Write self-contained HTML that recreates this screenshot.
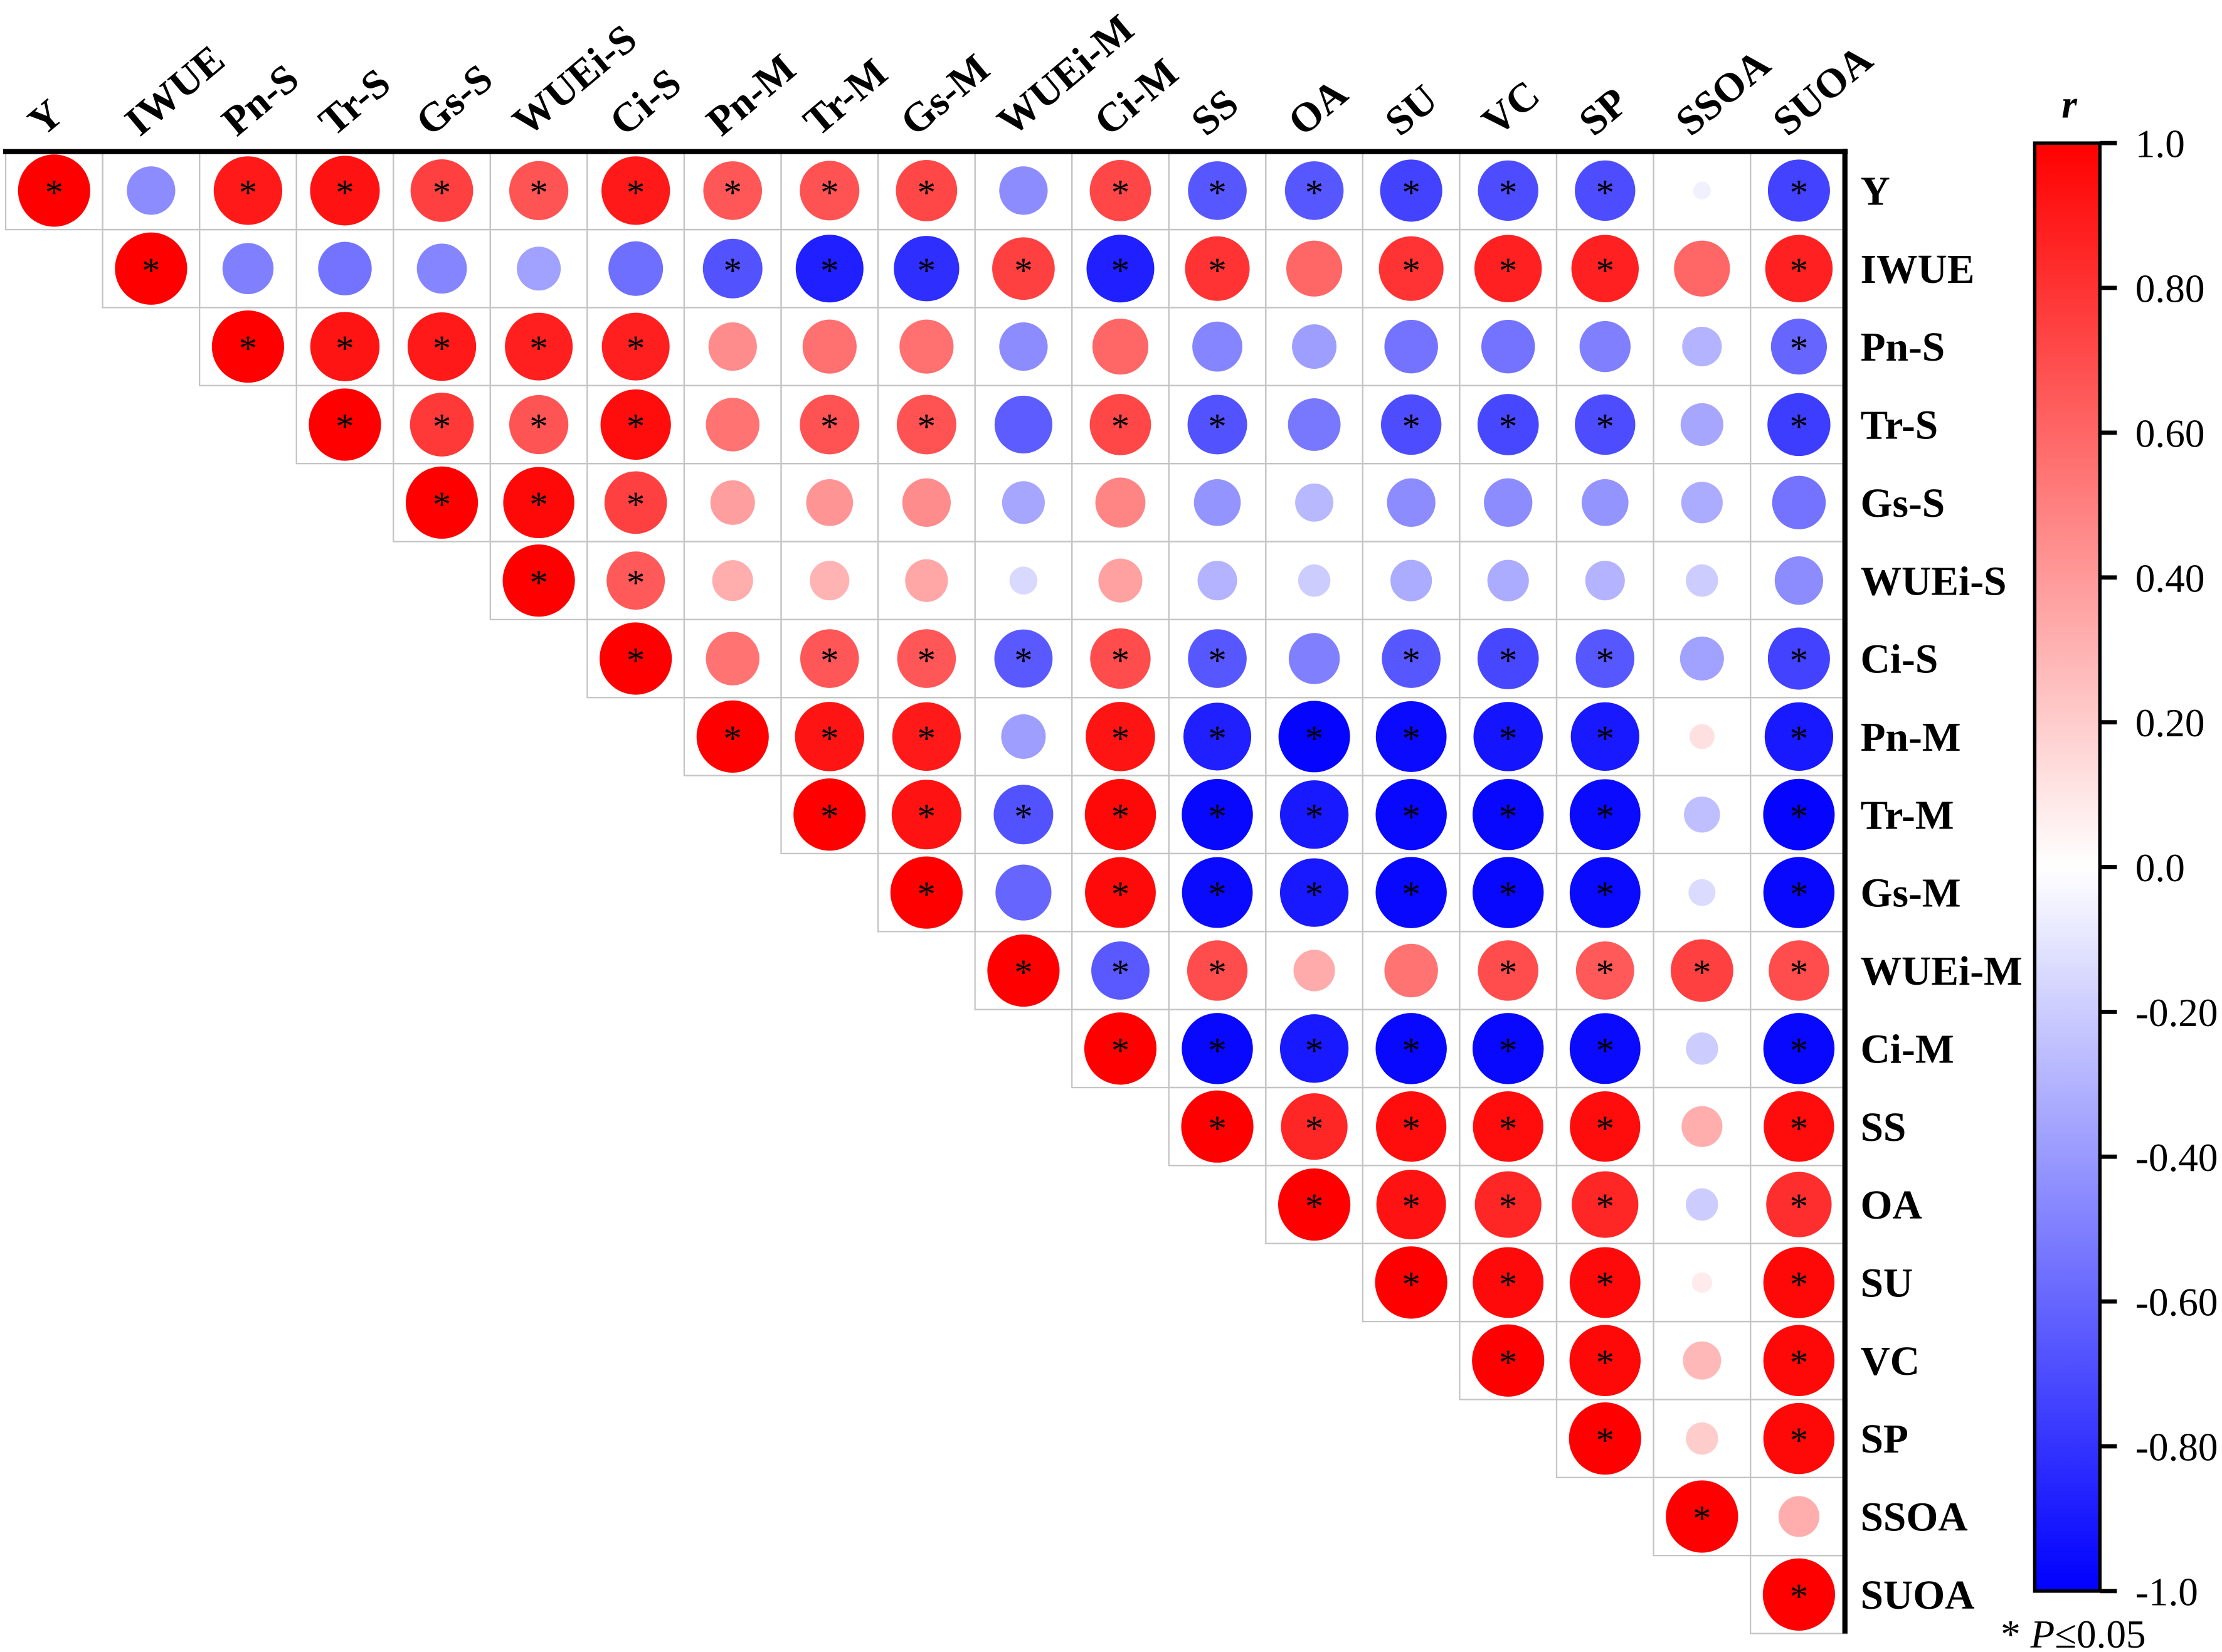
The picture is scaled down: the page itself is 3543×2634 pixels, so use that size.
<!DOCTYPE html>
<html><head><meta charset="utf-8"><style>
html,body{margin:0;padding:0;background:#fff;}
svg{display:block;}
text{font-family:"Liberation Serif",serif;}
</style></head><body>
<svg id="chart" width="3543" height="2634" viewBox="0 0 1568 1166" xmlns="http://www.w3.org/2000/svg">
<defs>
<linearGradient id="cbgrad" x1="0" y1="1" x2="0" y2="0">
<stop offset="0" stop-color="#0000ff"/><stop offset="0.5" stop-color="#ffffff"/><stop offset="1" stop-color="#ff0000"/>
</linearGradient>
</defs>
<g id="cells"></g>
<g id="collabels"></g>
<g id="rowlabels"></g>
<line x1="2" y1="107" x2="1304" y2="107" stroke="#000" stroke-width="3.6"/>
<line x1="1302" y1="105" x2="1302" y2="1153" stroke="#000" stroke-width="3.6"/>
<g id="colorbar">
<rect x="1436" y="101" width="46" height="1022" fill="url(#cbgrad)" stroke="#000" stroke-width="2.4"/>
<text x="1455" y="83" font-size="28" font-weight="bold" font-style="italic">r</text>
</g>
<text x="1412" y="1163" font-size="28">* <tspan font-style="italic">P</tspan>≤0.05</text>
</svg>
<script>
const labels = ["Y","IWUE","Pn-S","Tr-S","Gs-S","WUEi-S","Ci-S","Pn-M","Tr-M","Gs-M","WUEi-M","Ci-M","SS","OA","SU","VC","SP","SSOA","SUOA"];
// upper-triangle correlations, row i starts at column i
const r0  = [1,-0.45,0.9,0.93,0.75,0.67,0.9,0.66,0.68,0.72,-0.45,0.72,-0.66,-0.66,-0.74,-0.7,-0.7,-0.06,-0.74];
const r1  = [1,-0.5,-0.55,-0.48,-0.37,-0.57,-0.68,-0.88,-0.82,0.75,-0.88,0.8,0.6,0.8,0.87,0.87,0.6,0.87];
const r2  = [1,0.92,0.9,0.88,0.88,0.45,0.56,0.56,-0.45,0.6,-0.48,-0.38,-0.55,-0.55,-0.5,-0.3,-0.6];
const r3  = [1,0.78,0.67,0.95,0.55,0.68,0.68,-0.64,0.72,-0.68,-0.53,-0.7,-0.72,-0.7,-0.35,-0.76];
const r4  = [1,0.97,0.75,0.38,0.42,0.45,-0.35,0.48,-0.42,-0.28,-0.45,-0.45,-0.42,-0.33,-0.55];
const r5  = [1,0.65,0.32,0.3,0.35,-0.15,0.37,-0.3,-0.2,-0.33,-0.33,-0.3,-0.2,-0.45];
const r6  = [1,0.55,0.66,0.66,-0.65,0.7,-0.66,-0.5,-0.66,-0.72,-0.66,-0.37,-0.74];
const r7  = [1,0.92,0.9,-0.38,0.92,-0.88,-0.98,-0.96,-0.92,-0.9,0.12,-0.9];
const r8  = [1,0.93,-0.68,0.97,-0.97,-0.9,-0.97,-0.97,-0.96,-0.25,-0.98];
const r9  = [1,-0.6,0.96,-0.96,-0.9,-0.97,-0.97,-0.96,-0.14,-0.97];
const r10 = [1,-0.65,0.7,0.33,0.55,0.7,0.65,0.75,0.7];
const r11 = [1,-0.97,-0.9,-0.97,-0.97,-0.96,-0.2,-0.97];
const r12 = [1,0.85,0.95,0.95,0.95,0.32,0.95];
const r13 = [1,0.93,0.85,0.85,-0.2,0.82];
const r14 = [1,0.96,0.96,0.08,0.97];
const r15 = [1,0.97,0.28,0.97];
const r16 = [1,0.2,0.97];
const r17 = [1,0.32];
const r18 = [1];
const sig0  = [1,0,1,1,1,1,1,1,1,1,0,1,1,1,1,1,1,0,1];
const sig1  = [1,0,0,0,0,0,1,1,1,1,1,1,0,1,1,1,0,1];
const sig2  = [1,1,1,1,1,0,0,0,0,0,0,0,0,0,0,0,1];
const sig3  = [1,1,1,1,0,1,1,0,1,1,0,1,1,1,0,1];
const sig4  = [1,1,1,0,0,0,0,0,0,0,0,0,0,0,0];
const sig5  = [1,1,0,0,0,0,0,0,0,0,0,0,0,0];
const sig6  = [1,0,1,1,1,1,1,0,1,1,1,0,1];
const sig7  = [1,1,1,0,1,1,1,1,1,1,0,1];
const sig8  = [1,1,1,1,1,1,1,1,1,0,1];
const sig9  = [1,0,1,1,1,1,1,1,0,1];
const sig10 = [1,1,1,0,0,1,1,1,1];
const sig11 = [1,1,1,1,1,1,0,1];
const sig12 = [1,1,1,1,1,0,1];
const sig13 = [1,1,1,1,0,1];
const sig14 = [1,1,1,0,1];
const sig15 = [1,1,0,1];
const sig16 = [1,0,1];
const sig17 = [1,0];
const sig18 = [1];
const rows = [r0,r1,r2,r3,r4,r5,r6,r7,r8,r9,r10,r11,r12,r13,r14,r15,r16,r17,r18];
const sigs = [sig0,sig1,sig2,sig3,sig4,sig5,sig6,sig7,sig8,sig9,sig10,sig11,sig12,sig13,sig14,sig15,sig16,sig17,sig18];
const cbTicks = [1.0,0.8,0.6,0.4,0.2,0.0,-0.2,-0.4,-0.6,-0.8,-1.0];
const cbTickLabels = ["1.0","0.80","0.60","0.40","0.20","0.0","-0.20","-0.40","-0.60","-0.80","-1.0"];

const NS="http://www.w3.org/2000/svg";
const gx0=3.8, gy0=107, cw=68.42, ch=55.05, Rmax=25.5;
const xc = j => gx0 + cw*(j+0.5);
const yc = i => gy0 + ch*(i+0.5);
const rad = v => Rmax*Math.sqrt(Math.abs(v));
function color(v){
  v=Math.max(-1,Math.min(1,v));
  let r,g,b;
  if(v>=0){r=255;g=Math.round(255*(1-v));b=g;}else{b=255;r=Math.round(255*(1+v));g=r;}
  return `rgb(${r},${g},${b})`;
}
function mk(tag,attrs,parent){const e=document.createElementNS(NS,tag);for(const k in attrs)e.setAttribute(k,attrs[k]);parent.appendChild(e);return e;}
const cells=document.getElementById('cells');
rows.forEach((row,i)=>{
  row.forEach((v,k)=>{
    const j=i+k;
    const rc=mk('rect',{x:gx0+cw*j,y:gy0+ch*i,width:cw,height:ch,fill:'none',stroke:'#c4c4c4','stroke-width':1},cells);
    
    
    const c=mk('circle',{cx:xc(j),cy:yc(i),r:rad(v),fill:color(v)},cells);
    
    
    if(sigs[i][k]){
      const t=mk('text',{x:xc(j),y:yc(i)+10,'font-size':26,'text-anchor':'middle'},cells);
      
      
      t.textContent='*';
    }
  });
});
const cl=document.getElementById('collabels');
labels.forEach((l,j)=>{
  const x=xc(j)-8, y=97;
  const t=mk('text',{x:x,y:y,'font-size':29,'font-weight':'bold',transform:`rotate(-40 ${x} ${y})`},cl);
  
  
  t.textContent=l;
});
const rl=document.getElementById('rowlabels');
labels.forEach((l,i)=>{
  const t=mk('text',{x:1313,y:yc(i)+10,'font-size':29,'font-weight':'bold'},rl);
  
  
  t.textContent=l;
});
const cb=document.getElementById('colorbar');
const cbTop=101, cbBot=1123;
const cbY = v => cbTop + (1-v)/2*(cbBot-cbTop);
cbTicks.forEach((v,k)=>{
  const ln=mk('line',{x1:1482,x2:1494,y1:cbY(v),y2:cbY(v),stroke:'#000','stroke-width':3},cb);
  
  
  const t=mk('text',{x:1507,y:cbY(v)+10,'font-size':28},cb);
  
  
  t.textContent=cbTickLabels[k];
});
</script>
</body></html>
